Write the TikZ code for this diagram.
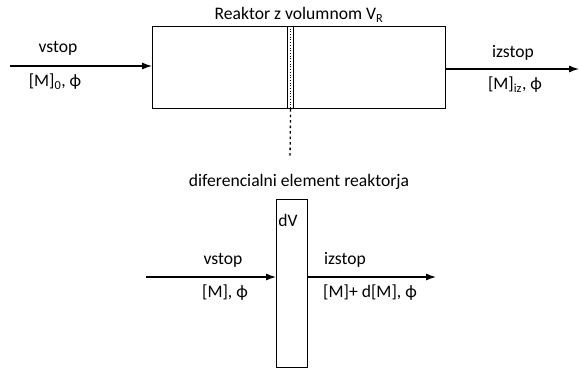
\documentclass[tikz,border=0pt]{standalone}
\usepackage{fontspec}
\setmainfont{Carlito}
\usetikzlibrary{arrows.meta}
\newcommand{\fiX}{ϕ}
\begin{document}
\begin{tikzpicture}[x=1pt,y=-1pt,
  box/.style={draw, line width=1.2pt, inner sep=0pt, anchor=north west},
  flow/.style={line width=1.2pt, -{Latex[length=10pt,width=7pt]}},
  lbl/.style={font=\fontsize{17.6}{21}\selectfont, inner sep=0pt}]
\useasboundingbox (0,0) rectangle (579,369);
% main reactor
\node[box, minimum width=293pt, minimum height=82pt] (reactor) at (152,26) {};
\node[box, minimum width=6pt, minimum height=82pt] (strip) at (287,26) {};
\draw[line width=0.7pt, dotted] (strip.north) -- (strip.south);
\coordinate (dend) at (290,158);
\draw[line width=1.3pt, dash pattern=on 2.5pt off 3pt] (strip.south) -- (dend);
\node[lbl] (title) at (299,15) {Reaktor z volumnom V\textsubscript{R}};
% inlet / outlet
\coordinate (in) at (10,66);
\coordinate (out) at (579,69);
\draw[flow] (in) -- (in -| reactor.west);
\draw[flow] (out -| reactor.east) -- (out);
\node[lbl] (vin) at (58,48) {vstop};
\node[lbl] (min) at (55,82) {[M]\textsubscript{0}, \fiX};
\node[lbl] (vout) at (513,53) {izstop};
\node[lbl] (mout) at (515,85) {[M]\textsubscript{iz}, \fiX};
% differential element
\node[lbl] (dtitle) at (299,182) {diferencialni element reaktorja};
\node[box, minimum width=31pt, minimum height=168pt] (el) at (276,199) {};
\node[lbl] (dv) at (288,220) {dV};
\coordinate (ein) at (146,277);
\coordinate (eout) at (436,277);
\draw[flow] (ein) -- (ein -| el.west);
\draw[flow] (eout -| el.east) -- (eout);
\node[lbl] (evin) at (223,260) {vstop};
\node[lbl] (emin) at (225,293) {[M], \fiX};
\node[lbl] (evout) at (345,260) {izstop};
\node[lbl] (emout) at (370,293) {[M]+ d[M], \fiX};
\end{tikzpicture}
\end{document}
